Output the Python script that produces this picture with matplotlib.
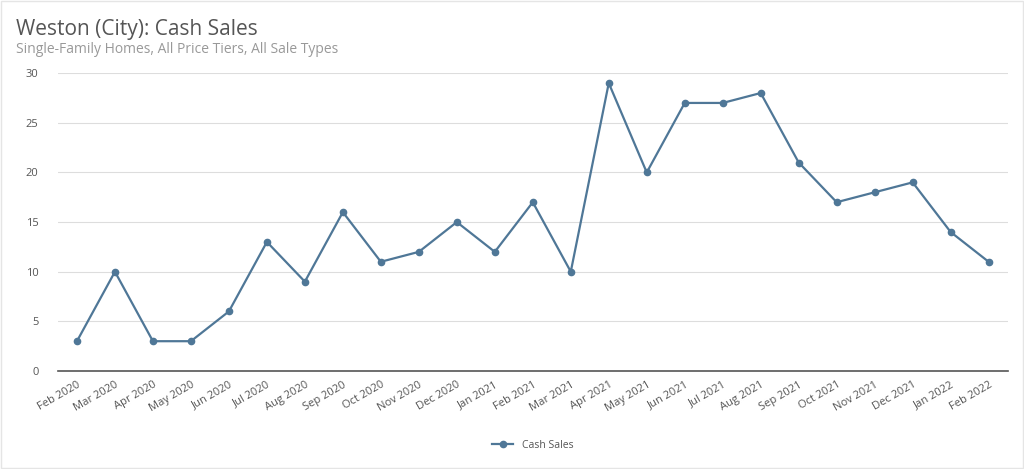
import matplotlib
matplotlib.use('Agg')
import matplotlib.pyplot as plt

plt.rcParams['font.family'] = ['Open Sans', 'DejaVu Sans']

months = ['Feb 2020', 'Mar 2020', 'Apr 2020', 'May 2020', 'Jun 2020', 'Jul 2020',
          'Aug 2020', 'Sep 2020', 'Oct 2020', 'Nov 2020', 'Dec 2020', 'Jan 2021',
          'Feb 2021', 'Mar 2021', 'Apr 2021', 'May 2021', 'Jun 2021', 'Jul 2021',
          'Aug 2021', 'Sep 2021', 'Oct 2021', 'Nov 2021', 'Dec 2021', 'Jan 2022',
          'Feb 2022']
cash_sales = [3, 10, 3, 3, 6, 13, 9, 16, 11, 12, 15, 12, 17, 10, 29, 20, 27, 27,
              28, 21, 17, 18, 19, 14, 11]
y_ticks = [0, 5, 10, 15, 20, 25, 30]

line_color = '#4f7797'

fig = plt.figure(figsize=(10.24, 4.69), dpi=100)
ax = fig.add_axes([0.0566, 0.209, 0.9274, 0.635])

x = list(range(len(months)))
ax.plot(x, cash_sales, color=line_color, lw=1.6, marker='o', ms=4.5, label='Cash Sales')

ax.set_xlim(-0.5, len(months) - 0.5)
ax.set_ylim(0, 30)
ax.set_yticks(y_ticks)
ax.set_xticks(x)
ax.set_xticklabels(months, rotation=30, ha='right', rotation_mode='anchor')
ax.tick_params(axis='both', length=0, labelsize=8, colors='#555555')
ax.tick_params(axis='y', pad=14)
ax.tick_params(axis='x', pad=6)
ax.grid(axis='y', color='#dddddd', lw=0.8)
ax.set_axisbelow(True)
for s in ['top', 'right', 'left']:
    ax.spines[s].set_visible(False)
ax.spines['bottom'].set_color('#555555')
ax.spines['bottom'].set_linewidth(1.2)

fig.text(0.016, 0.925, 'Weston (City): Cash Sales', fontsize=15, color='#555555')
fig.text(0.016, 0.888, 'Single-Family Homes, All Price Tiers, All Sale Types',
         fontsize=10, color='#999999')

ax.legend(loc='upper center', bbox_to_anchor=(0.5, -0.2), frameon=False,
          fontsize=7.5, labelcolor='#555555', handlelength=2)

fig.patches.append(plt.Rectangle((0.001, 0.002), 0.998, 0.996, transform=fig.transFigure,
                                 fill=False, edgecolor='#e5e5e5', lw=1))

fig.savefig('out.png', dpi=100)
